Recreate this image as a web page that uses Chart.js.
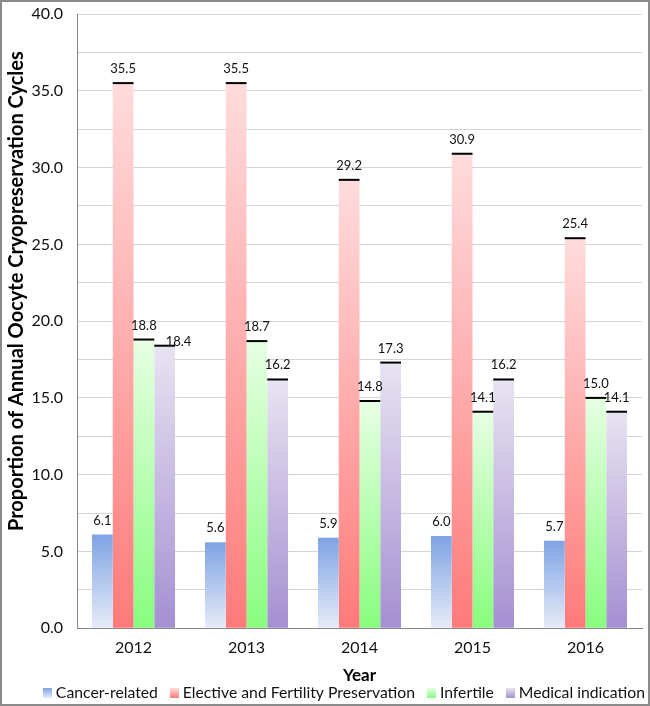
<!DOCTYPE html>
<html>
<head>
<meta charset="utf-8">
<script src="https://cdn.jsdelivr.net/npm/chart.js@4.4.1/dist/chart.umd.min.js"></script>
<style>
  html, body { margin: 0; padding: 0; background: #fff; }
  #wrap { width: 650px; height: 706px; }
</style>
</head>
<body>
<div id="wrap"><canvas id="barChart" width="650" height="706"></canvas></div>
<script>
// chart data
var years = ["2012", "2013", "2014", "2015", "2016"];
var cancerRelated = [6.1, 5.6, 5.9, 6.0, 5.7];
var electiveFP = [35.5, 35.5, 29.2, 30.9, 25.4];
var infertile = [18.8, 18.7, 14.8, 14.1, 15.0];
var medicalIndication = [18.4, 16.2, 17.3, 16.2, 14.1];
var yTicks = [0, 5, 10, 15, 20, 25, 30, 35, 40];
var yTitle = 'Proportion of Annual Oocyte Cryopreservation Cycles';

var FONT = "Lato, 'Open Sans', sans-serif";

// gradient from bar top to bar bottom (like the excel fill)
function barFill(topColor, bottomColor) {
    return function (ctx) {
        var chart = ctx.chart;
        if (ctx.type !== 'data' || !chart.chartArea || !chart.scales.y) return bottomColor;
        var y = chart.scales.y;
        var y0 = y.getPixelForValue(ctx.raw);
        var y1 = y.getPixelForValue(0);
        var g = chart.ctx.createLinearGradient(0, y0, 0, y1);
        g.addColorStop(0, topColor);
        g.addColorStop(1, bottomColor);
        return g;
    };
}

// little gradient squares for the legend (transparent strip on the left = spacing)
function legendSwatch(topColor, bottomColor) {
    var c = document.createElement('canvas');
    c.width = 15;
    c.height = 10;
    var x = c.getContext('2d');
    var g = x.createLinearGradient(0, 0, 0, 10);
    g.addColorStop(0, topColor);
    g.addColorStop(1, bottomColor);
    x.fillStyle = g;
    x.fillRect(6, 0, 9, 10);
    return c;
}

var colors = [
    ['#7fa3e4', '#e6ecf8'],
    ['#ffdcdc', '#ff7a7a'],
    ['#e6ffe3', '#88fd7e'],
    ['#e8e3f1', '#a48fd2']
];

// white background, gray outer frame, y axis title
var framePlugin = {
    id: 'frame',
    afterLayout: function (chart) {
        // excel legend sits a bit right of centre and lower
        chart.legend.left += 22;
        chart.legend.right += 22;
        chart.legend.top += 5;
        chart.legend.bottom += 5;
    },
    beforeDraw: function (chart) {
        var c = chart.ctx;
        c.save();
        c.fillStyle = '#ffffff';
        c.fillRect(0, 0, chart.width, chart.height);
        c.restore();
    },
    afterDraw: function (chart) {
        var c = chart.ctx;
        var a = chart.chartArea;
        c.save();
        // y title, a little above the middle of the plot
        c.translate(17, (a.top + a.bottom) / 2 - 30);
        c.rotate(-Math.PI / 2);
        c.font = 'bold 20px ' + FONT;
        c.fillStyle = '#000';
        c.textAlign = 'center';
        c.textBaseline = 'middle';
        c.fillText(yTitle, 0, 0);
        c.restore();

        c.save();
        c.strokeStyle = '#8a8a8a';
        c.lineWidth = 2;
        c.strokeRect(1, 1, chart.width - 2, chart.height - 2);
        c.restore();
    }
};

// black caps on top of bars + value labels
var labelPlugin = {
    id: 'barLabels',
    afterDatasetsDraw: function (chart) {
        var c = chart.ctx;
        c.save();
        // caps
        chart.data.datasets.forEach(function (ds, di) {
            if (!ds.cap) return;
            chart.getDatasetMeta(di).data.forEach(function (el) {
                c.strokeStyle = '#000';
                c.lineWidth = 2;
                c.beginPath();
                c.moveTo(el.x - el.width / 2, el.y);
                c.lineTo(el.x + el.width / 2, el.y);
                c.stroke();
            });
        });
        // labels
        c.font = '13px ' + FONT;
        c.fillStyle = '#111';
        c.textAlign = 'center';
        c.textBaseline = 'alphabetic';
        for (var i = 0; i < years.length; i++) {
            var prev = null;
            chart.data.datasets.forEach(function (ds, di) {
                var el = chart.getDatasetMeta(di).data[i];
                var txt = ds.data[i].toFixed(1);
                var w = c.measureText(txt).width;
                var x = el.x;
                var base = el.y - 10;
                var box = { l: x - w / 2, r: x + w / 2, t: base - 10, b: base };
                if (prev && box.l < prev.r && box.b > prev.t && box.t < prev.b) {
                    // collides with the neighbour: push it right, down to the bar top
                    var dx = prev.r + 9 - box.l;
                    x += dx;
                    base = el.y;
                    box = { l: box.l + dx, r: box.r + dx, t: base - 10, b: base };
                }
                c.fillText(txt, x, base);
                prev = box;
            });
        }
        c.restore();
    }
};

var ctxB = document.getElementById('barChart').getContext('2d');
var myBarChart = new Chart(ctxB, {
    type: 'bar',
    data: {
        labels: years,
        datasets: [{
                label: 'Cancer-related',
                data: cancerRelated,
                backgroundColor: barFill(colors[0][0], colors[0][1]),
                swatch: legendSwatch(colors[0][0], colors[0][1]),
                cap: false
            },
            {
                label: 'Elective and Fertility Preservation',
                data: electiveFP,
                backgroundColor: barFill(colors[1][0], colors[1][1]),
                swatch: legendSwatch(colors[1][0], colors[1][1]),
                cap: true
            },
            {
                label: 'Infertile',
                data: infertile,
                backgroundColor: barFill(colors[2][0], colors[2][1]),
                swatch: legendSwatch(colors[2][0], colors[2][1]),
                cap: true
            },
            {
                label: 'Medical indication',
                data: medicalIndication,
                backgroundColor: barFill(colors[3][0], colors[3][1]),
                swatch: legendSwatch(colors[3][0], colors[3][1]),
                cap: true
            }
        ]
    },
    options: {
        responsive: false,
        animation: false,
        devicePixelRatio: 1,
        layout: {
            padding: { top: 14, left: 0, right: 8, bottom: 0 }
        },
        datasets: {
            bar: {
                barPercentage: 1,
                categoryPercentage: 0.735,
                borderWidth: 0
            }
        },
        scales: {
            x: {
                grid: { display: false, drawTicks: false },
                border: { color: '#878787', width: 1 },
                ticks: {
                    color: '#111',
                    padding: 10,
                    font: { family: FONT, size: 16 }
                },
                title: {
                    display: true,
                    text: 'Year',
                    color: '#000',
                    font: { family: FONT, size: 17, weight: 'bold' },
                    padding: { top: 0, bottom: -15 }
                },
                afterFit: function (scale) { scale.height = 42; }
            },
            y: {
                min: 0,
                max: 40,
                grid: { color: '#d4d4d4', lineWidth: 1, drawTicks: false },
                border: { color: '#878787', width: 1 },
                ticks: {
                    stepSize: 2.5,
                    color: '#111',
                    padding: 14,
                    font: { family: FONT, size: 16 },
                    callback: function (v) {
                        return yTicks.indexOf(v) >= 0 ? v.toFixed(1) : '';
                    }
                },
                afterFit: function (scale) {
                    scale.width = 77;
                    // tick padding should not push the plot down
                    scale.paddingTop = 0;
                    scale.paddingBottom = 0;
                }
            }
        },
        plugins: {
            legend: {
                position: 'bottom',
                labels: {
                    usePointStyle: true,
                    pointStyleWidth: 7,
                    boxHeight: 10,
                    padding: 10,
                    color: '#111',
                    font: { family: FONT, size: 15.75 },
                    generateLabels: function (chart) {
                        var items = Chart.defaults.plugins.legend.labels.generateLabels(chart);
                        items.forEach(function (it) {
                            it.pointStyle = chart.data.datasets[it.datasetIndex].swatch;
                        });
                        return items;
                    }
                }
            },
            tooltip: { enabled: false }
        }
    },
    plugins: [framePlugin, labelPlugin]
});
</script>
</body>
</html>
